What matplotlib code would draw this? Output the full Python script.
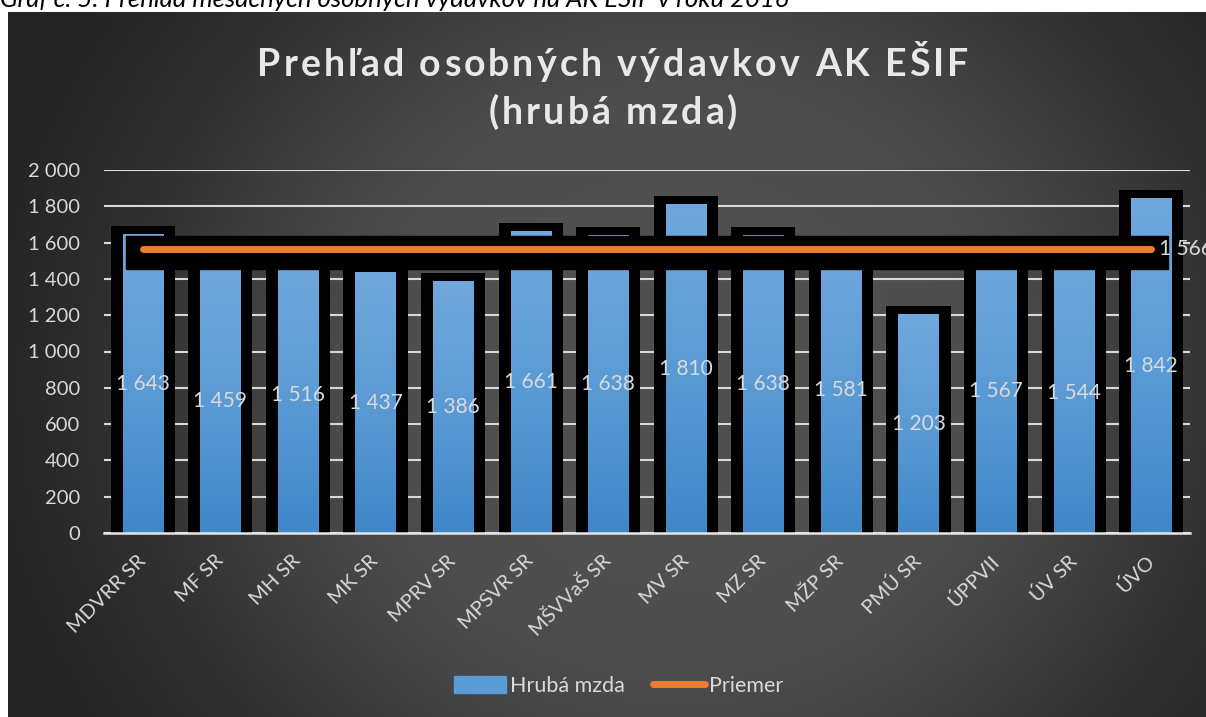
import matplotlib.pyplot as plt
import numpy as np
from matplotlib.colors import LinearSegmentedColormap
from matplotlib.patches import Patch, Rectangle
from matplotlib.lines import Line2D

plt.rcParams['font.family'] = ['Lato', 'DejaVu Sans']

# Data
kategorie = ['MDVRR SR', 'MF SR', 'MH SR', 'MK SR', 'MPRV SR', 'MPSVR SR', 'MŠVVaŠ SR',
             'MV SR', 'MZ SR', 'MŽP SR', 'PMÚ SR', 'ÚPPVII', 'ÚV SR', 'ÚVO']
hruba_mzda = [1643, 1459, 1516, 1437, 1386, 1661, 1638, 1810, 1638, 1581, 1203, 1567, 1544, 1842]
priemer = 1566
y_ticks = [0, 200, 400, 600, 800, 1000, 1200, 1400, 1600, 1800, 2000]

W, H = 1206, 717
txt_col = '#d9d9d9'


def fmt(v):
    return f'{v:,}'.replace(',', ' ')


fig = plt.figure(figsize=(W / 100, H / 100), dpi=100)
fig.patch.set_facecolor('white')


def spaced_text(s, xc, yb, spacing, **kw):
    # text s roztiahnutými písmenami, xc = stred v px, yb = účiarie v px od vrchu
    r = fig.canvas.get_renderer()

    def w(t):
        tt = fig.text(0, 0, t, **kw)
        e = tt.get_window_extent(r).width
        tt.remove()
        return e

    base = w('||')
    widths = [w('|' + ch + '|') - base for ch in s]
    total = sum(widths) + spacing * (len(s) - 1)
    xp = xc - total / 2
    for ch, cw in zip(s, widths):
        fig.text(xp / W, 1 - yb / H, ch, ha='left', va='baseline', **kw)
        xp += cw + spacing


# tmavé pozadie s radiálnym prechodom
bg = fig.add_axes([8 / W, 0, 1 - 8 / W, (H - 12) / H], zorder=-10)
yy, xx = np.mgrid[0:705, 0:1198]
d = np.sqrt(((xx - 672) / 750) ** 2 + ((yy - 368) / 700) ** 2)
s = np.clip((d - 0.3) / 0.7, 0, 1)
s = 3 * s ** 2 - 2 * s ** 3
c = (79 - 43 * s) / 255
bg.imshow(np.dstack([c, c, c]), aspect='auto', interpolation='bilinear')
bg.axis('off')

# popis grafu nad rámom (orezaný ako v zdroji)
fig.text(0.0, 1 - 7 / H, 'Graf č. 5: Prehľad mesačných osobných výdavkov na AK EŠIF v roku 2016',
         fontsize=18.5, style='italic', color='black', ha='left', va='baseline')

ax = fig.add_axes([104 / W, (H - 533) / H, (1190 - 104) / W, (533 - 170) / H])
ax.patch.set_alpha(0)

x = np.arange(len(kategorie))

# čierne rámy okolo stĺpcov
ax.bar(x, [v + 58 for v in hruba_mzda], bottom=-11, width=0.826, color='black', zorder=2)

# stĺpce s prechodom
cmap = LinearSegmentedColormap.from_list('modra', ['#4087c8', '#5b9bd5', '#70a8dd'])
grad = np.linspace(0, 1, 256).reshape(-1, 1)
for i, v in enumerate(hruba_mzda):
    ax.imshow(grad, cmap=cmap, extent=[i - 0.258, i + 0.258, 0, v], origin='lower',
              aspect='auto', zorder=3)
    ax.text(i, v / 2, fmt(v), ha='center', va='center', color=txt_col, fontsize=15, zorder=6)

# priemer
ax.add_patch(Rectangle((-0.217, priemer - 110), len(x) - 1 + 0.434, 182, color='black', zorder=4))
ax.plot(x, [priemer] * len(x), color='#ed7d31', lw=5, solid_capstyle='round', zorder=5)
ax.text(len(x) - 1 + 0.1, priemer, fmt(priemer), ha='left', va='center', color=txt_col,
        fontsize=15, zorder=6, clip_on=False)

ax.set_xlim(-0.5, len(x) - 0.5)
ax.set_ylim(0, 2000)
ax.set_yticks(y_ticks)
ax.set_yticklabels([fmt(v) for v in y_ticks])
ax.set_xticks(x)
ax.set_xticklabels(kategorie)
ax.tick_params(axis='y', length=0, pad=17, labelcolor=txt_col, labelsize=14.5)
ax.tick_params(axis='x', length=0, pad=18, labelcolor=txt_col, labelsize=14.5)
plt.setp(ax.get_xticklabels(), rotation=45, ha='right', va='center', rotation_mode='anchor')

ax.set_axisbelow(True)
ax.yaxis.grid(True, color=txt_col, lw=1.5, zorder=1)
for side in ['left', 'right', 'top']:
    ax.spines[side].set_visible(False)
ax.spines['bottom'].set_color('#e6e6e6')
ax.spines['bottom'].set_linewidth(1.8)
ax.spines['bottom'].set_zorder(7)

# nadpis s rozostupom písmen
title_kw = dict(fontsize=27, weight='bold', color='#e8e8e8')
spaced_text('Prehľad osobných výdavkov AK EŠIF', 613, 76, 3.1, **title_kw)
spaced_text('(hrubá mzda)', 613, 124, 3.1, **title_kw)

# legenda
handles = [Patch(color='#5b9bd5'),
           Line2D([0], [0], color='#ed7d31', lw=5, solid_capstyle='round')]
fig.legend(handles, ['Hrubá mzda', 'Priemer'], loc='center', bbox_to_anchor=(619 / W, 1 - 686 / H),
           ncol=2, frameon=False, fontsize=15.5, labelcolor=txt_col, handlelength=2.4,
           handletextpad=0.2, columnspacing=1.3, handleheight=0.85)

fig.savefig('out.png', dpi=100)
